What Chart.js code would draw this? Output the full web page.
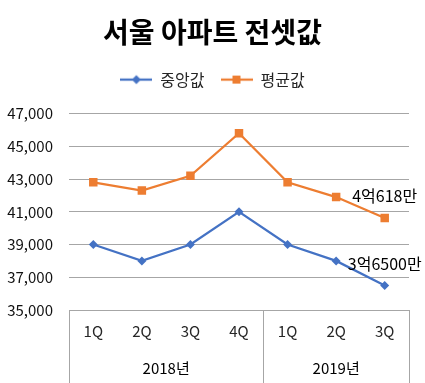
<!DOCTYPE html>
<html><head><meta charset="utf-8">
<script src="https://cdn.jsdelivr.net/npm/chart.js@4/dist/chart.umd.min.js"></script>
<style>html,body{margin:0;padding:0;background:#fff;}canvas{display:block;}</style>
</head><body>
<canvas id="c" width="425" height="383"></canvas>
<script>
const quarters = ["1Q","2Q","3Q","4Q","1Q","2Q","3Q"];
const years = ["2018년","2019년"];
const yearSpans = [4,3];
const medianValues = [39000,38000,39000,41000,39000,38000,36500];
const meanValues = [42800,42300,43200,45800,42800,41900,40618];
const medianLabels = ["","","","","","","3억6500만"];
const meanLabels = ["","","","","","","4억618만"];
const yTicks = [35000,37000,39000,41000,43000,45000,47000];

const FONT = "'Noto Sans CJK KR','Noto Sans',sans-serif";
const BLUE = "#4472C4", ORANGE = "#ED7D31", GRID = "#a6a6a6";

function legendIcon(color, style){
  const c = document.createElement('canvas'); c.width = 32; c.height = 12;
  const x = c.getContext('2d');
  x.strokeStyle = color; x.lineWidth = 2.25;
  x.beginPath(); x.moveTo(0,6); x.lineTo(32,6); x.stroke();
  x.fillStyle = color; x.beginPath();
  if (style === 'diamond'){ x.moveTo(16,1.5); x.lineTo(20.5,6); x.lineTo(16,10.5); x.lineTo(11.5,6); x.closePath(); }
  else { x.rect(12,2,8,8); }
  x.fill();
  return c;
}
const icons = [legendIcon(BLUE,'diamond'), legendIcon(ORANGE,'square')];

function makeSpacer(position, size){
  return {
    position, weight: 1, fullSize: position === 'top', width: 0, height: 0,
    left:0, top:0, right:0, bottom:0,
    options: {stackWeight: 1},
    isHorizontal(){ return position === 'top' || position === 'bottom'; },
    update(maxW, maxH){
      if (this.isHorizontal()){ this.width = maxW; this.height = size; }
      else { this.width = size; this.height = maxH; }
    },
    getPadding(){ return {left:0,top:0,right:0,bottom:0}; },
    draw(){},
    _layers(){ return [{z:0, draw(){}}]; }
  };
}
const spacerPlugin = {
  id:'spacerPlugin',
  beforeInit(chart){
    Chart.layouts.addBox(chart, makeSpacer('top', 16));
    Chart.layouts.addBox(chart, makeSpacer('right', 16));
  }
};

const boxPlugin = {
  id:'boxPlugin',
  afterDraw(chart){
    const ctx = chart.ctx, xs = chart.scales.x, a = chart.chartArea, H = chart.height;
    ctx.save();
    ctx.strokeStyle = GRID; ctx.lineWidth = 1;
    const bounds = [a.left];
    let idx = 0;
    yearSpans.forEach(n => { idx += n; bounds.push(idx >= quarters.length ? a.right : (xs.getPixelForValue(idx-1)+xs.getPixelForValue(idx))/2); });
    ctx.beginPath();
    ctx.moveTo(a.left, Math.round(a.bottom)+0.5); ctx.lineTo(a.right, Math.round(a.bottom)+0.5);
    bounds.forEach(b => { const bx = Math.round(b)+0.5; ctx.moveTo(bx, a.bottom); ctx.lineTo(bx, H); });
    ctx.stroke();
    ctx.fillStyle = '#000'; ctx.font = "15px " + FONT; ctx.textAlign = 'center'; ctx.textBaseline = 'middle';
    years.forEach((y,i) => { ctx.fillText(y, (bounds[i]+bounds[i+1])/2, a.bottom + 58); });
    // data labels
    ctx.font = "16px " + FONT;
    [medianLabels, meanLabels].forEach((labels, di) => {
      const meta = chart.getDatasetMeta(di);
      labels.forEach((t,i) => { if (t) { const p = meta.data[i]; ctx.fillText(t, p.x, p.y - 22); } });
    });
    ctx.restore();
  }
};

new Chart(document.getElementById('c'), {
  type:'line',
  data:{
    labels: quarters,
    datasets:[
      {label:'중앙값', data: medianValues, borderColor: BLUE, backgroundColor: BLUE, borderWidth: 2.25,
       pointStyle:'rectRot', pointRadius:4.5, pointBackgroundColor: BLUE, pointBorderColor: BLUE, pointBorderWidth: 0, tension:0},
      {label:'평균값', data: meanValues, borderColor: ORANGE, backgroundColor: ORANGE, borderWidth: 2.25,
       pointStyle:'rect', pointRadius:6, pointBackgroundColor: ORANGE, pointBorderColor: ORANGE, pointBorderWidth: 0, tension:0}
    ]
  },
  options:{
    responsive:false, devicePixelRatio:1, animation:false,
    layout:{padding:0},
    plugins:{
      title:{display:true, text:'서울 아파트 전셋값', color:'#000',
        font:{family:FONT, size:28, weight:'bold', lineHeight:1.2}, padding:{top:16,bottom:6}},
      legend:{display:true, position:'top',
        labels:{usePointStyle:true, pointStyleWidth:32, padding:16, color:'#262626',
          font:{family:FONT, size:16},
          generateLabels(chart){
            return chart.data.datasets.map((d,i)=>({text:d.label, pointStyle: icons[i], fillStyle:d.borderColor, strokeStyle:d.borderColor, lineWidth:0, hidden:false, datasetIndex:i, fontColor:'#262626'}));
          }}},
      tooltip:{enabled:false}
    },
    scales:{
      x:{offset:true, grid:{display:false, drawTicks:false, tickLength:0}, border:{display:false},
        ticks:{color:'#262626', font:{family:FONT,size:15}, padding:12, maxRotation:0, autoSkip:false},
        afterFit(s){ s.height = 73; }},
      y:{min:35000, max:47000, afterBuildTicks(s){ s.ticks = yTicks.map(v=>({value:v})); },
        grid:{color:GRID, lineWidth:1, drawTicks:false}, border:{display:false},
        ticks:{color:'#111', font:{family:FONT,size:15}, padding:16,
          callback:v=>v.toLocaleString('en-US')},
        afterFit(s){ s.width = 69; }}
    }
  },
  plugins:[spacerPlugin, boxPlugin]
});
</script>
</body></html>
